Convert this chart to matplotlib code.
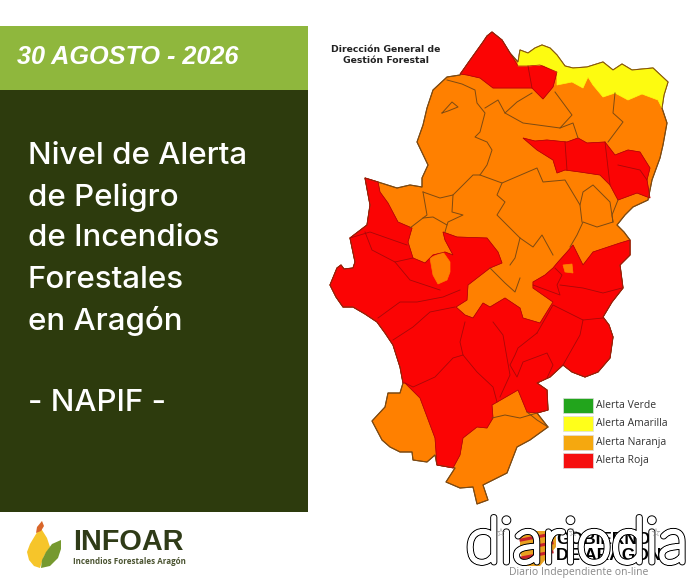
import matplotlib
matplotlib.use("Agg")
import matplotlib.pyplot as plt
import matplotlib.patheffects as pe
from matplotlib.patches import Polygon, Rectangle

# map shapes
aragon = [(483,42),(487,36),(492,32),(502,40),(510,53),(518,62),(520,50),(528,53),(535,48),(542,45),(550,48),(557,55),(565,66),(573,68),
          (587,67),(603,62),(613,70),(622,64),(632,70),(653,68),(668,82),(664,95),(662,108),(667,123),(663,145),(660,158),(652,180),
          (648,200),(633,207),(625,215),(617,225),(624,232),(630,240),(630,255),(620,265),(623,288),(612,302),(603,317),(609,325),(613,337),(610,358),(598,372),(585,377),
          (572,372),(563,365),(550,377),(537,383),(547,390),(548,410),(537,413),(548,427),(530,440),(517,447),(512,460),(507,473),(483,485),
          (488,500),(477,504),(473,487),(460,488),(446,482),(455,468),(437,465),(435,455),(427,462),(413,460),(412,452),(400,452),
          (390,447),(382,440),(372,421),(385,407),(388,393),(400,393),(403,383),(400,367),(393,345),(385,333),(377,322),(365,314),(353,307),(343,307),(336,297),(330,285),
          (337,268),(341,265),(344,269),(353,268),(355,262),(350,238),(367,225),(370,205),(365,178),(378,182),(397,188),(410,185),(422,187),
          (422,178),(428,165),(417,142),(423,125),(427,108),(433,90),(447,77),(460,75),(468,63),(483,42)]

red_north = [(460,74),(468,63),(483,42),(487,36),(492,32),(502,40),(510,53),(518,66),(528,66),(540,65),(557,72),(553,87),(543,99),
             (532,88),(510,88),(493,88),(480,78),(467,75)]
yellow_north = [(518,62),(520,50),(528,53),(535,48),(542,45),(550,48),(557,55),(565,66),(573,68),(587,67),(603,62),(613,70),(622,64),
                (632,70),(653,68),(668,82),(664,95),(662,108),(658,100),(642,94),(628,100),(615,93),(603,97),(593,85),(588,77),
                (583,88),(572,82),(557,85),(557,72),(543,65),(528,66),(518,66)]
red_centre = [(523,138),(535,141),(547,140),(567,142),(578,138),(587,143),(605,142),(615,155),(628,150),(640,152),(650,168),(647,180),(650,198),(637,193),
              (618,200),(610,185),(600,175),(580,172),(565,170),(557,173),(553,160),(537,150)]
red_south = [(365,178),(378,182),(380,192),(388,203),(398,222),(412,228),(408,242),(413,258),(425,263),(433,255),(445,252),(453,255),
             (445,240),(443,232),(457,237),(487,238),(498,252),(502,263),(490,268),(468,285),(467,300),(456,307),(465,315),(473,318),
             (483,303),(490,307),(505,298),(520,308),(523,318),(540,323),(553,302),(533,288),(533,282),(545,275),(553,268),(558,262),(567,252),
             (573,245),(583,265),(593,252),(620,243),(630,240),(630,255),(620,265),(623,288),(612,302),(603,317),(609,325),(613,337),(610,358),(598,372),(585,377),
             (572,372),(563,365),(550,377),(537,383),(547,390),(548,410),(537,413),(527,412),(518,390),(492,405),(493,418),(487,428),(477,427),(463,438),
             (460,455),(453,468),(437,465),(435,438),(420,398),(405,383),(403,383),(400,367),(393,345),(385,333),(377,322),(365,314),(353,307),(343,307),
             (336,297),(330,285),(337,268),(341,265),(344,269),(353,268),(355,262),(350,238),(367,225),(370,205)]
orange_small = [(430,258),(443,252),(450,262),(450,272),(447,280),(438,284),(433,275)]
orange_east = [(563,265),(572,264),(573,273),(565,272)]

brown_lines = [
    [(442,113),(452,102),(458,107),(448,111),(442,113)],
    [(447,80),(462,84),(475,90),(477,103),(485,113),(480,132),(475,137),(487,142),(492,150),(487,165),(480,175),(473,175),(453,195),(440,198),(423,192)],
    [(485,108),(498,100),(505,113),(517,102),(532,93)],
    [(505,113),(523,123),(560,128),(572,115),(555,92)],
    [(560,128),(573,123),(578,138)],
    [(615,93),(613,113),(623,122),(608,142)],
    [(480,175),(502,183),(537,168),(543,182),(565,180),(580,205),(583,192),(593,185),(610,202),(613,222),(597,227),(583,222),(577,235),(570,247)],
    [(502,183),(497,195),(505,202),(497,215),(520,238),(533,247),(542,235),(553,255)],
    [(580,205),(582,222)],
    [(453,195),(452,212),(463,215),(448,222),(447,225),(433,217),(423,218),(410,228)],
    [(423,192),(427,215),(423,218)],
    [(520,238),(515,258),(510,265)],
    [(447,225),(445,232)],
    [(618,200),(612,215),(613,222)],
    [(490,268),(505,283),(515,292),(520,278)],
    [(527,412),(537,420),(548,427)],
    [(492,418),(505,415),(520,418),(537,413)],
]
red_lines = [
    [(378,318),(400,302),(417,302),(443,297),(460,290)],
    [(393,340),(413,327),(430,312),(455,307)],
    [(465,322),(460,342),(463,355),(453,358),(435,377),(413,387),(405,383)],
    [(463,355),(477,372),(493,387),(497,402)],
    [(493,322),(503,335),(507,358),(510,375),(500,397)],
    [(537,333),(518,348),(515,355),(510,365),(517,377),(523,362),(547,353),(553,365),(547,378)],
    [(537,333),(553,305),(583,320),(580,335),(563,365)],
    [(583,320),(603,318)],
    [(533,285),(560,295),(557,285),(562,275),(555,268)],
    [(560,285),(583,288),(603,293),(622,288)],
    [(350,238),(370,232),(387,238),(407,245)],
    [(365,232),(372,250),(395,262),(413,258)],
    [(395,262),(410,280),(440,290)],
    [(532,88),(528,66)],
    [(565,142),(567,170)],
    [(605,142),(610,185)],
    [(618,165),(640,170),(647,180)],
]

legend_labels = ["Alerta Verde", "Alerta Amarilla", "Alerta Naranja", "Alerta Roja"]
legend_colors = ["#22a51c", "#ffff1a", "#f5a80f", "#f50f0f"]
legend_tops = [398, 416, 435, 453]

main_lines = ["Nivel de Alerta", "de Peligro", "de Incendios", "Forestales", "en Aragón", "", "- NAPIF -"]
main_y = [156, 197, 238, 280, 321, 362, 403]

flame = [(42,521),(40,528),(36,534),(30,544),(27,552),(29,560),(34,566),(40,568),(44,556),(50,547),(47,538),(42,530)]
flame_tip = [(42,521),(37,527),(36,533),(41,531),(44,526)]
leaf = [(61,540),(52,544),(46,552),(42,560),(41,568),(50,566),(58,558),(61,549)]
shield = [(520,531),(556,531),(556,547),(540,566),(525,566),(520,552)]

ORANGE = "#ff8000"
RED = "#fb0404"
BROWN = "#7d4a12"
DARKRED = "#a80808"

fig = plt.figure(figsize=(6.9, 5.79), dpi=100)
ax = fig.add_axes([0, 0, 1, 1])
ax.set_xlim(0, 690)
ax.set_ylim(579, 0)
ax.axis("off")

# left panel
ax.add_patch(Rectangle((0, 26), 308, 64, color="#8fb73d", lw=0))
ax.add_patch(Rectangle((0, 90), 308, 422, color="#2d3b0d", lw=0))
ax.text(17, 57, "30 AGOSTO - 2026", color="white", fontsize=18.2, fontweight="bold", style="italic",
        family="Liberation Sans", va="center")
for line, y in zip(main_lines, main_y):
    ax.text(28, y, line, color="white", fontsize=22.5, family="Inter", va="center", fontweight="medium")

# map
ax.add_patch(Polygon(aragon, fc=ORANGE, ec=BROWN, lw=0.8, joinstyle="round"))
for pts in [red_south, red_north, red_centre]:
    ax.add_patch(Polygon(pts, fc=RED, ec=RED, lw=0.5))
ax.add_patch(Polygon(yellow_north, fc="#fdfb10", ec="#fdfb10", lw=0.5))
for pts in [orange_small, orange_east]:
    ax.add_patch(Polygon(pts, fc=ORANGE, ec=ORANGE, lw=0.5))
ax.add_patch(Polygon(aragon, fc="none", ec=BROWN, lw=0.7))
for pts in [red_south, red_north, red_centre]:
    ax.add_patch(Polygon(pts, fc="none", ec=DARKRED, lw=0.5))
for pts in brown_lines:
    ax.plot(*zip(*pts), color=BROWN, lw=0.7)
for pts in red_lines:
    ax.plot(*zip(*pts), color=DARKRED, lw=0.6)

ax.text(386, 55, "Dirección General de\nGestión Forestal", fontsize=6.7, fontweight="bold", color="#222222",
        ha="center", va="center", family="DejaVu Sans", linespacing=1.25)

# legend
for label, col, top in zip(legend_labels, legend_colors, legend_tops):
    ax.add_patch(Rectangle((563, top), 30, 15, fc=col, ec="#dddddd", lw=0.5))
    ax.text(596, top + 7.5, label, fontsize=7.5, color="#333333", va="center", family="Open Sans")

# INFOAR logo
ax.add_patch(Polygon(flame, fc="#f6c52a", ec="none"))
ax.add_patch(Polygon(flame_tip, fc="#d9662a", ec="none"))
ax.add_patch(Polygon(leaf, fc="#76992f", ec="none"))
ax.text(73, 542, "INFOAR", fontsize=20.8, fontweight="bold", color="#2f3b17", va="center", family="Liberation Sans")
ax.text(73, 562, "Incendios Forestales Aragón", fontsize=5.8, fontweight="bold", color="#4a5330", va="center", family="Open Sans")

# Gobierno logo under the watermark
ax.add_patch(Polygon(shield, fc="#e8a020", ec="none"))
for y in (537, 546, 555):
    ax.plot([521, 552], [y + 3, y - 3], color="#c8202a", lw=2.2)
ax.text(556, 539, "GOBIERNO", fontsize=12.5, fontweight="bold", color="black", va="center", family="Liberation Sans")
ax.text(556, 556, "DE ARAGON", fontsize=12.5, fontweight="bold", color="black", va="center", family="Liberation Sans")

# diariodia watermark
ax.text(577, 545, "diariodia", fontsize=45, color="white", ha="center", va="center", family="Lato", fontweight="light",
        path_effects=[pe.Stroke(linewidth=4.6, foreground="black"), pe.Stroke(linewidth=3.2, foreground="white")])
for x in (500, 572, 655):
    ax.text(x, 533, "☆", fontsize=8, color="#777777", ha="center", va="center", family="DejaVu Sans")
ax.text(579, 573, "Diario Independiente on-line", fontsize=7.5, color="#888888", ha="center", va="center", family="Open Sans")

fig.savefig("out.png", dpi=100)
